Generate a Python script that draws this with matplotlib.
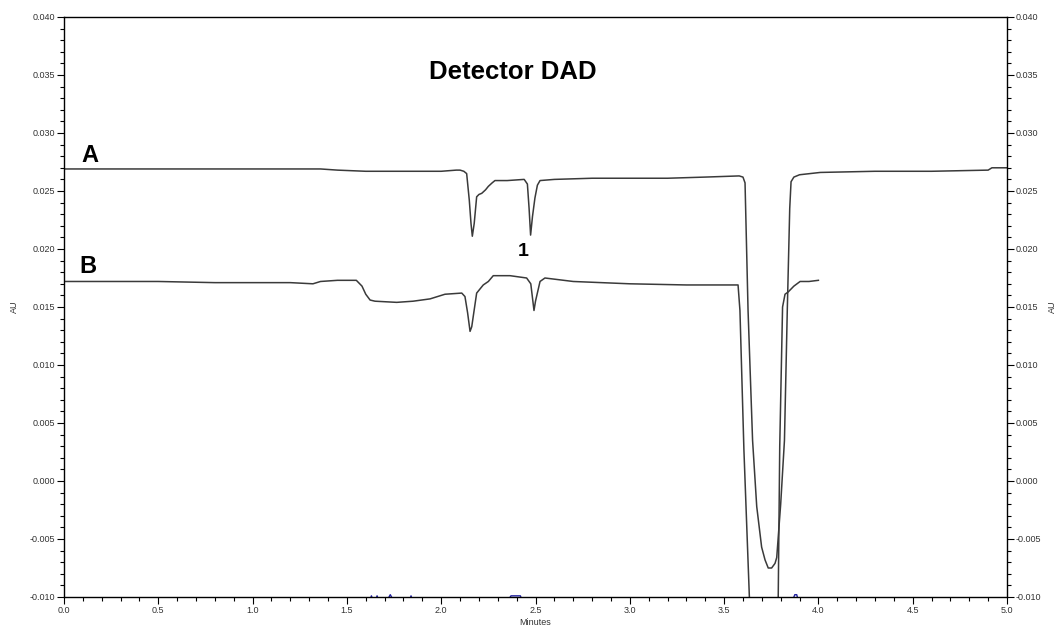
import matplotlib
matplotlib.use("Agg")
import matplotlib.pyplot as plt
from matplotlib.ticker import MultipleLocator, FormatStrFormatter

plt.rcParams['font.family'] = ['Liberation Sans', 'DejaVu Sans']

# ---- data ----
a_t = [0.00, 0.30, 0.60, 0.80, 1.00, 1.20, 1.34, 1.36, 1.45, 1.60, 1.80, 2.00, 2.08, 2.10,
       2.12, 2.135, 2.149, 2.158, 2.165, 2.175, 2.188, 2.20, 2.215, 2.235, 2.25, 2.27, 2.285,
       2.35, 2.44, 2.457, 2.466, 2.474, 2.484, 2.497, 2.51, 2.524, 2.60, 2.80, 3.00, 3.20,
       3.40, 3.58, 3.600, 3.611, 3.627, 3.651, 3.673, 3.699, 3.717, 3.734, 3.752, 3.770,
       3.779, 3.80, 3.82, 3.835, 3.848, 3.855, 3.87, 3.90, 4.01, 4.30, 4.60, 4.90, 4.92, 5.00]
a_v = [0.0269, 0.0269, 0.0269, 0.0269, 0.0269, 0.0269, 0.0269, 0.0269, 0.0268, 0.0267,
       0.0267, 0.0267, 0.0268, 0.0268, 0.0267, 0.0265, 0.0242, 0.0222, 0.0211, 0.0222,
       0.0245, 0.0247, 0.0248, 0.0251, 0.0254, 0.0257, 0.0259, 0.0259, 0.0260, 0.0256,
       0.0235, 0.0212, 0.0228, 0.0244, 0.0255, 0.0259, 0.0260, 0.0261, 0.0261, 0.0261,
       0.0262, 0.0263, 0.0262, 0.0257, 0.0147, 0.0035, -0.0022, -0.0057, -0.0068, -0.0075,
       -0.0075, -0.0071, -0.0066, -0.0020, 0.0035, 0.0147, 0.0235, 0.0258, 0.0262, 0.0264,
       0.0266, 0.0267, 0.0267, 0.0268, 0.0270, 0.0270]

b_t = [0.00, 0.50, 0.80, 1.20, 1.32, 1.36, 1.45, 1.55, 1.58, 1.60, 1.623, 1.649, 1.764, 1.851,
       1.941, 2.02, 2.109, 2.126, 2.14, 2.153, 2.162, 2.170, 2.188, 2.223, 2.25, 2.276,
       2.365, 2.453, 2.475, 2.492, 2.50, 2.524, 2.55, 2.70, 3.00, 3.30, 3.50, 3.574, 3.584,
       3.605, 3.634, 3.66, 3.76, 3.787, 3.795, 3.810, 3.823, 3.840, 3.870, 3.903, 3.95, 4.00]
b_v = [0.0172, 0.0172, 0.0171, 0.0171, 0.0170, 0.0172, 0.0173, 0.0173, 0.0168, 0.0161,
       0.0156, 0.0155, 0.0154, 0.0155, 0.0157, 0.0161, 0.0162, 0.0159, 0.0145, 0.0129,
       0.0133, 0.0142, 0.0162, 0.0169, 0.0172, 0.0177, 0.0177, 0.0175, 0.0170, 0.0147,
       0.0155, 0.0172, 0.0175, 0.0172, 0.0170, 0.0169, 0.0169, 0.0169, 0.0147, 0.0027,
       -0.0100, -0.0220, -0.0220, -0.0100, 0.0030, 0.0150, 0.0161, 0.0163, 0.0168, 0.0172,
       0.0172, 0.0173]

c_t = [1.55, 1.62, 1.63, 1.64, 1.65, 1.66, 1.67, 1.71, 1.73, 1.75, 1.83, 1.84, 1.85,
       2.35, 2.37, 2.42, 2.43, 3.86, 3.875, 3.885, 3.895, 3.91]
c_v = [-0.0104, -0.0104, -0.0099, -0.0104, -0.0104, -0.0099, -0.0104, -0.0104, -0.0098,
       -0.0104, -0.0104, -0.0099, -0.0104, -0.0104, -0.0099, -0.0099, -0.0104, -0.0104,
       -0.0098, -0.0098, -0.0104, -0.0104]

x_ticks = [0.0, 0.5, 1.0, 1.5, 2.0, 2.5, 3.0, 3.5, 4.0, 4.5, 5.0]
y_ticks = [-0.010, -0.005, 0.000, 0.005, 0.010, 0.015, 0.020, 0.025, 0.030, 0.035, 0.040]

# ---- figure ----
fig = plt.figure(figsize=(10.59, 6.28), dpi=100)
ax = fig.add_axes([64/1059, 1-597/628, (1007-64)/1059, (597-17)/628])

ax.plot(a_t, a_v, color='#3a3a3a', lw=1.1)
ax.plot(b_t, b_v, color='#3a3a3a', lw=1.1)
ax.plot(c_t, c_v, color='#2020a0', lw=1.0)

ax.set_xlim(0, 5)
ax.set_ylim(-0.010, 0.040)
ax.set_xticks(x_ticks)
ax.set_yticks(y_ticks)
ax.xaxis.set_minor_locator(MultipleLocator(0.1))
ax.yaxis.set_minor_locator(MultipleLocator(0.001))
ax.xaxis.set_major_formatter(FormatStrFormatter('%.1f'))
ax.yaxis.set_major_formatter(FormatStrFormatter('%.3f'))
ax.tick_params(axis='both', which='major', length=5, width=0.8, labelsize=6.5,
               labelcolor='#333333', pad=1.5)
ax.tick_params(axis='both', which='minor', length=3, width=0.8)
ax.tick_params(axis='y', which='both', right=True, labelright=True)
for s in ax.spines.values():
    s.set_linewidth(1.0)
    s.set_color('black')

ax.set_xlabel('Minutes', fontsize=6.5, color='#333333', labelpad=2)
fig.text(14/1059, 1-307/628, 'AU', rotation=90, fontsize=6.5, color='#333333',
         ha='center', va='center')
fig.text(1052/1059, 1-307/628, 'AU', rotation=90, fontsize=6.5, color='#333333',
         ha='center', va='center')

ax.text(2.38, 0.0353, 'Detector DAD', fontsize=18.5, fontweight='bold', ha='center', va='center')
ax.text(0.09, 0.0281, 'A', fontsize=17, fontweight='bold', ha='left', va='center')
ax.text(0.08, 0.01845, 'B', fontsize=17, fontweight='bold', ha='left', va='center')
ax.text(2.436, 0.0198, '1', fontsize=14, fontweight='bold', ha='center', va='center')

fig.savefig('out.png', dpi=100)
